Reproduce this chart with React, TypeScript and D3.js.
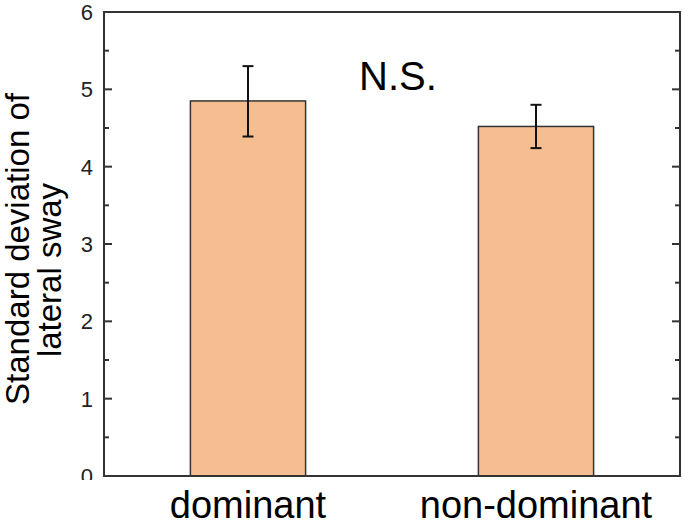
import React from "react";
import * as d3 from "d3";

const categories = ["dominant", "non-dominant"];
const means = [4.85, 4.52];
const errUpper = [5.3, 4.8];
const errLower = [4.39, 4.24];
const yTicks = [0, 1, 2, 3, 4, 5, 6];
const yMinorTicks = [0.5, 1.5, 2.5, 3.5, 4.5, 5.5];
const annotation = "N.S.";
const yLabelLines = ["Standard deviation of", "lateral sway"];

const W = 685;
const H = 527;
const left = 104;
const right = 680;
const top = 12;
const bottom = 476;

export default function App() {
  const x = d3.scaleBand<string>().domain(categories).range([left, right]).paddingInner(0.6).paddingOuter(0.3);
  const y = d3.scaleLinear().domain([0, 6]).range([bottom, top]);
  const font = "'Liberation Sans', Arial, sans-serif";
  const axisColor = "#333";
  return (
    <svg width={W} height={H} style={{ position: "absolute", left: 0, top: 0, background: "#fff" }}>
      <defs>
        <clipPath id="tickclip">
          <rect x={0} y={0} width={W} height={480} />
        </clipPath>
      </defs>
      {categories.map((c, i) => (
        <rect key={c} x={x(c)} y={y(means[i])} width={x.bandwidth()} height={bottom - y(means[i])}
          fill="#F4BE91" stroke="#333" strokeWidth={1.5} />
      ))}
      {categories.map((c, i) => {
        const cx = (x(c) as number) + x.bandwidth() / 2;
        return (
          <g key={c + "e"} stroke="#111" strokeWidth={2}>
            <line x1={cx} x2={cx} y1={y(errUpper[i])} y2={y(errLower[i])} />
            <line x1={cx - 5.5} x2={cx + 5.5} y1={y(errUpper[i])} y2={y(errUpper[i])} />
            <line x1={cx - 5.5} x2={cx + 5.5} y1={y(errLower[i])} y2={y(errLower[i])} />
          </g>
        );
      })}
      <rect x={left} y={top} width={right - left} height={bottom - top} fill="none" stroke={axisColor} strokeWidth={2} />
      {yTicks.map((t) => (
        <g key={t} stroke={axisColor} strokeWidth={2}>
          <line x1={left} x2={left + 8} y1={y(t)} y2={y(t)} />
          <line x1={right - 8} x2={right} y1={y(t)} y2={y(t)} />
        </g>
      ))}
      {yMinorTicks.map((t) => (
        <g key={t} stroke={axisColor} strokeWidth={2}>
          <line x1={left} x2={left + 5} y1={y(t)} y2={y(t)} />
          <line x1={right - 5} x2={right} y1={y(t)} y2={y(t)} />
        </g>
      ))}
      <g clipPath="url(#tickclip)">
        {yTicks.map((t) => (
          <text key={t} x={left - 11} y={y(t)} dy="0.36em" textAnchor="end" fontFamily={font} fontSize={22} fill="#222">
            {t}
          </text>
        ))}
      </g>
      {categories.map((c) => (
        <text key={c} x={(x(c) as number) + x.bandwidth() / 2} y={518} textAnchor="middle" fontFamily={font} fontSize={38} fill="#000">
          {c}
        </text>
      ))}
      <text x={398} y={90} textAnchor="middle" fontFamily={font} fontSize={40} fill="#000">{annotation}</text>
      <g transform="rotate(-90)">
        <text x={-249} y={29} textAnchor="middle" fontFamily={font} fontSize={33} fill="#000">{yLabelLines[0]}</text>
        <text x={-270} y={61} textAnchor="middle" fontFamily={font} fontSize={33} fill="#000">{yLabelLines[1]}</text>
      </g>
    </svg>
  );
}
